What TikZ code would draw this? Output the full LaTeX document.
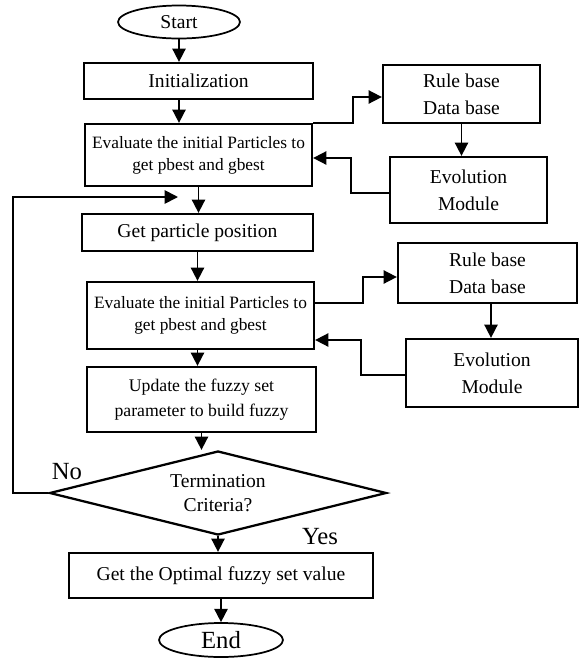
\documentclass[tikz,border=0pt]{standalone}
\usepackage{fontspec}
\setmainfont{Liberation Serif}
\usetikzlibrary{shapes.geometric,arrows.meta,calc}
\begin{document}
\begin{tikzpicture}[x=0.75pt,y=-0.75pt,
  box/.style={draw, line width=1.7pt, rectangle, inner sep=0pt, align=center},
  term/.style={draw, line width=1.3pt, ellipse, inner sep=0pt},
  arr/.style={line width=1.3pt, -{Triangle[length=10pt,width=10pt]}},
  fA/.style={font=\fontsize{14.7}{20}\selectfont},
  fB/.style={font=\fontsize{13}{16.5}\selectfont},
  fC/.style={font=\fontsize{18.5}{22}\selectfont}]
\useasboundingbox (0,0) rectangle (580,658);
% terminals
\node[term, fA, minimum width=91.5pt, minimum height=24.75pt] (start) at (179,22) {Start};
\node[term, fC, minimum width=93pt, minimum height=25.5pt] (end) at (221,640) {End};
% main column
\node[box, fA, minimum width=171.75pt, minimum height=27pt] (init) at (198.5,81) {Initialization};
\node[box, fB, minimum width=170.25pt, minimum height=46.5pt] (eval1) at (198.5,155) {Evaluate the initial Particles to\\get pbest and gbest};
\node[box, fA, minimum width=173.25pt, minimum height=27.75pt] (gpp) at (197.5,232.5) {Get particle position};
\node[box, fB, minimum width=170.25pt, minimum height=50.25pt] (eval2) at (200.5,315.5) {Evaluate the initial Particles to\\get pbest and gbest};
\node[box, font=\fontsize{13.3}{18.5}\selectfont, minimum width=171.75pt, minimum height=48.75pt] (update) at (201.5,399.5) {Update the fuzzy set\\parameter to build fuzzy};
\node[draw, line width=1.7pt, diamond, aspect=4, inner sep=0pt, align=center, font=\fontsize{14.7}{17.5}\selectfont, minimum width=252.75pt, minimum height=63pt] (dia) at (218,493) {Termination\\Criteria?};
\node[box, fA, minimum width=228pt, minimum height=33.75pt] (final) at (221,575.5) {Get the Optimal fuzzy set value};
% right side
\node[box, fA, minimum width=117.75pt, minimum height=43.5pt] (rule1) at (461.5,94) {Rule base\\Data base};
\node[box, fA, minimum width=117.75pt, minimum height=49.5pt] (evo1) at (468.5,190) {Evolution\\Module};
\node[box, fA, minimum width=134.25pt, minimum height=45pt] (rule2) at (487.5,273) {Rule base\\Data base};
\node[box, fA, minimum width=129pt, minimum height=51pt] (evo2) at (492,373) {Evolution\\Module};
% labels
\node[fC] (no) at (67,472) {No};
\node[fC] (yes) at (320,537) {Yes};
% main arrows
\draw[arr] (start.south) -- (start.south |- init.north);
\draw[arr] (init.south -| start.south) -- (eval1.north -| start.south);
\draw[arr] (eval1.south) -- (eval1.south |- gpp.north);
\draw[arr] (gpp.south) -- (gpp.south |- eval2.north);
\draw[arr] (eval2.south -| gpp.south) -- (update.north -| gpp.south);
\draw[arr] (update.south) -- (update.south |- dia.north);
\draw[arr] (dia.south) -- (dia.south |- final.north);
\draw[arr] (final.south) -- (end.north);
% loop back
\coordinate (loopL) at (13,197);
\coordinate (loopEnd) at (178,197);
\draw[arr] (dia.west) -- (dia.west -| loopL) -- (loopL) -- (loopEnd);
% upper side loop
\draw[arr] (eval1.north east) -- ++(40,0) |- ($(rule1.west)+(0,3)$);
\draw[arr] (rule1.south) -- (rule1.south |- evo1.north);
\draw[arr] ($(evo1.west)+(0,3)$) -- ++(-38,0) |- ($(eval1.east)+(0,3)$);
% lower side loop
\draw[arr] ($(eval2.east)+(0,-12.5)$) -- ++(48,0) |- ($(rule2.west)+(0,4)$);
\draw[arr] ($(rule2.south)+(3.5,0)$) -- ($(rule2.south |- evo2.north)+(3.5,0)$);
\draw[arr] ($(evo2.west)+(0,2)$) -- ++(-44,0) |- ($(eval2.east)+(0,24.5)$);
\end{tikzpicture}
\end{document}
